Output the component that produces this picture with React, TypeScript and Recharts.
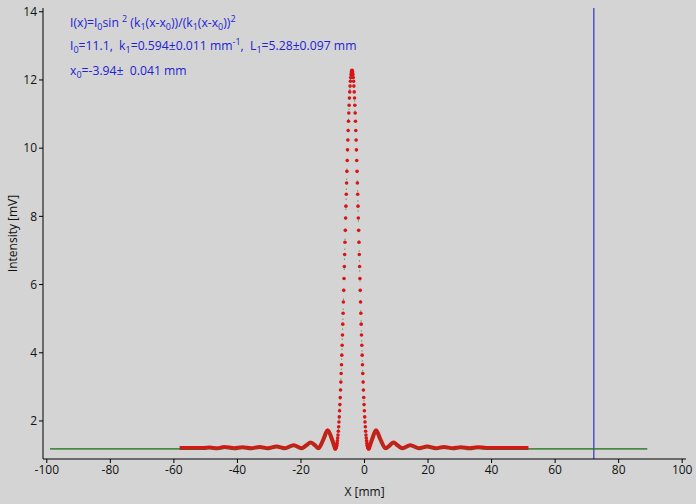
import React from 'react';
import { ComposedChart, Line, Scatter, XAxis, YAxis, ReferenceLine } from 'recharts';

const X_TICKS = [-100, -80, -60, -40, -20, 0, 20, 40, 60, 80, 100];
const Y_TICKS = [2, 4, 6, 8, 10, 12, 14];
const CURSOR_X = 72.2;

// measured points across the central maximum (mm, mV)
const PEAK_X = [
  -9.24, -9.14, -9.04, -8.94, -8.84, -8.74, -8.64, -8.54, -8.44, -8.34,
  -8.24, -8.14, -8.04, -7.94, -7.84, -7.74, -7.64, -7.54, -7.44, -7.34,
  -7.24, -7.14, -7.04, -6.94, -6.84, -6.74, -6.64, -6.54, -6.44, -6.34,
  -6.24, -6.14, -6.04, -5.94, -5.84, -5.74, -5.64, -5.54, -5.44, -5.34,
  -5.24, -5.14, -5.04, -4.94, -4.84, -4.74, -4.64, -4.54, -4.44, -4.34,
  -4.24, -4.14, -4.04, -3.94, -3.84, -3.74, -3.64, -3.54, -3.44, -3.34,
  -3.24, -3.14, -3.04, -2.94, -2.84, -2.74, -2.64, -2.54, -2.44, -2.34,
  -2.24, -2.14, -2.04, -1.94, -1.84, -1.74, -1.64, -1.54, -1.44, -1.34,
  -1.24, -1.14, -1.04, -0.94, -0.84, -0.74, -0.64, -0.54, -0.44, -0.34,
  -0.24, -0.14, -0.04, 0.06, 0.16, 0.26, 0.36, 0.46, 0.56, 0.66,
  0.76, 0.86, 0.96, 1.06, 1.16, 1.26, 1.36,
];
const PEAK_Y = [
  1.18, 1.18, 1.2, 1.22, 1.25, 1.29, 1.35, 1.42, 1.5, 1.59,
  1.7, 1.83, 1.97, 2.12, 2.3, 2.48, 2.69, 2.91, 3.14, 3.39,
  3.65, 3.93, 4.22, 4.52, 4.84, 5.16, 5.49, 5.83, 6.18, 6.53,
  6.88, 7.24, 7.59, 7.95, 8.3, 8.65, 8.98, 9.32, 9.64, 9.95,
  10.24, 10.52, 10.79, 11.03, 11.26, 11.47, 11.65, 11.82, 11.96, 12.07,
  12.16, 12.23, 12.27, 12.28, 12.27, 12.23, 12.16, 12.07, 11.96, 11.82,
  11.65, 11.47, 11.26, 11.03, 10.79, 10.52, 10.24, 9.95, 9.64, 9.32,
  8.98, 8.65, 8.3, 7.95, 7.59, 7.24, 6.88, 6.53, 6.18, 5.83,
  5.49, 5.16, 4.84, 4.52, 4.22, 3.93, 3.65, 3.39, 3.14, 2.91,
  2.69, 2.48, 2.3, 2.12, 1.97, 1.83, 1.7, 1.59, 1.5, 1.42,
  1.35, 1.29, 1.25, 1.22, 1.2, 1.18, 1.18,
];

// measured side lobes
const WING_LEFT_X = [-58.2, -50.5, -48.8, -46.3, -44.2, -41.0, -38.4, -35.7, -33.0, -30.4, -27.7, -25.1, -22.3, -19.8, -18.4, -16.9, -15.5, -14.5, -12.9, -11.6, -10.3, -9.24];
const WING_LEFT_Y = [1.21, 1.21, 1.22, 1.2, 1.24, 1.2, 1.23, 1.2, 1.24, 1.2, 1.25, 1.2, 1.29, 1.2, 1.28, 1.37, 1.28, 1.2, 1.47, 1.73, 1.48, 1.18];
const WING_RIGHT_X = [1.36, 2.46, 3.62, 4.96, 6.64, 7.9, 9.1, 10.5, 11.9, 14.4, 17.2, 19.7, 22.5, 25.0, 27.8, 30.3, 33.1, 35.6, 38.4, 51.6];
const WING_RIGHT_Y = [1.18, 1.48, 1.73, 1.47, 1.2, 1.28, 1.37, 1.28, 1.2, 1.29, 1.2, 1.25, 1.2, 1.24, 1.2, 1.23, 1.2, 1.23, 1.21, 1.21];

// fitted curve
const FIT_LEFT_X = [-99, -52, -48.8, -46.25, -43.5, -40.96, -38.2, -35.67, -32.9, -30.39, -27.6, -25.1, -22.3, -19.81, -18.4, -16.94, -15.5, -14.52, -12.84, -11.5, -10.34, -9.23];
const FIT_LEFT_Y = [1.18, 1.18, 1.2, 1.18, 1.2, 1.18, 1.21, 1.18, 1.22, 1.18, 1.24, 1.18, 1.27, 1.18, 1.27, 1.36, 1.27, 1.18, 1.46, 1.7, 1.47, 1.18];
const FIT_RIGHT_X = [1.35, 2.46, 3.62, 4.96, 6.64, 7.9, 9.06, 10.5, 11.93, 14.42, 17.22, 19.74, 22.51, 25.05, 27.79, 30.35, 33.08, 35.65, 38.37, 89];
const FIT_RIGHT_Y = [1.18, 1.47, 1.7, 1.46, 1.18, 1.27, 1.36, 1.27, 1.18, 1.27, 1.18, 1.24, 1.18, 1.22, 1.18, 1.21, 1.18, 1.2, 1.18, 1.18];

const pts = (xs: number[], ys: number[]) => xs.map((x, i) => ({ x, y: ys[i] }));

const peakData = pts(PEAK_X, PEAK_Y);
const wingLeft = pts(WING_LEFT_X, WING_LEFT_Y);
const wingRight = pts(WING_RIGHT_X, WING_RIGHT_Y);
const fitLeft = pts(FIT_LEFT_X, FIT_LEFT_Y);
const fitRight = pts(FIT_RIGHT_X, FIT_RIGHT_Y);

const RED = '#d81414';
const GREEN = '#2f7a2a';
const BLUE = '#2222d4';
const FONT = '"Open Sans", "Noto Sans", sans-serif';

const sub = (t: string) => (
  <sub style={{ fontSize: 9, verticalAlign: '-3px', lineHeight: 0 }}>{t}</sub>
);
const sup = (t: string) => (
  <sup style={{ fontSize: 9, verticalAlign: '5px', lineHeight: 0 }}>{t}</sup>
);

const lineStyle = (top: number): React.CSSProperties => ({
  position: 'absolute',
  left: 70,
  top,
  fontSize: 12.2,
  lineHeight: '16px',
  color: BLUE,
  whiteSpace: 'pre',
  fontFamily: FONT,
});

const Dot = (p: any) => <circle cx={p.cx} cy={p.cy} r={1.8} fill={RED} />;

export default function App() {
  const tick = { fontSize: 12, fill: '#111', fontFamily: FONT };
  return (
    <div style={{ position: 'relative', width: 696, height: 504, background: '#d4d4d4' }}>
      <style>{'body{margin:0}'}</style>
      <ComposedChart width={696} height={504} margin={{ top: 8, right: 10, left: 0, bottom: 0 }}>
        <XAxis
          dataKey="x"
          type="number"
          domain={[-101.2, 101.2]}
          ticks={X_TICKS}
          allowDataOverflow
          stroke="#000"
          tickSize={4}
          tick={tick}
          height={45}
          label={{ value: 'X [mm]', position: 'insideBottom', offset: 8, style: { fontSize: 12, fill: '#111', fontFamily: FONT } }}
        />
        <XAxis xAxisId="top" orientation="top" type="number" domain={[0, 1]} tick={false} tickLine={false} height={0} stroke="#000" />
        <YAxis
          type="number"
          domain={[0.885, 14.11]}
          ticks={Y_TICKS}
          allowDataOverflow
          stroke="#000"
          tickSize={4}
          tick={tick}
          width={43}
          label={{ value: 'Intensity [mV]', angle: -90, position: 'insideLeft', offset: 13, style: { textAnchor: 'middle', fontSize: 12, fill: '#111', fontFamily: FONT } }}
        />
        <YAxis yAxisId="right" orientation="right" type="number" domain={[0, 1]} tick={false} tickLine={false} width={0} stroke="#000" />
        <ReferenceLine x={CURSOR_X} stroke="#1414c4" strokeWidth={1} />
        <Line data={fitLeft} dataKey="y" type="monotone" stroke={GREEN} strokeWidth={1.2} dot={false} isAnimationActive={false} />
        <Line data={fitRight} dataKey="y" type="monotone" stroke={GREEN} strokeWidth={1.2} dot={false} isAnimationActive={false} />
        <Line data={peakData} dataKey="y" type="linear" stroke={GREEN} strokeWidth={1} strokeDasharray="1 9" dot={false} isAnimationActive={false} />
        <Line data={wingLeft} dataKey="y" type="monotone" stroke={RED} strokeWidth={4} dot={false} isAnimationActive={false} />
        <Line data={wingRight} dataKey="y" type="monotone" stroke={RED} strokeWidth={4} dot={false} isAnimationActive={false} />
        <Line data={fitLeft} dataKey="y" type="monotone" stroke={GREEN} strokeOpacity={0.45} strokeWidth={1.2} dot={false} isAnimationActive={false} />
        <Line data={fitRight} dataKey="y" type="monotone" stroke={GREEN} strokeOpacity={0.45} strokeWidth={1.2} dot={false} isAnimationActive={false} />
        <Scatter data={peakData} dataKey="y" shape={Dot} isAnimationActive={false} />
      </ComposedChart>
      <div style={lineStyle(15)}>
        I(x)=I{sub('0')}sin {sup('2')} (k{sub('1')}(x-x{sub('0')}))/(k{sub('1')}(x-x{sub('0')})){sup('2')}
      </div>
      <div style={lineStyle(38)}>
        I{sub('0')}=11.1,  k{sub('1')}=0.594±0.011 mm{sup('-1')},  L{sub('1')}=5.28±0.097 mm
      </div>
      <div style={lineStyle(63)}>
        x{sub('0')}=-3.94±  0.041 mm
      </div>
    </div>
  );
}
